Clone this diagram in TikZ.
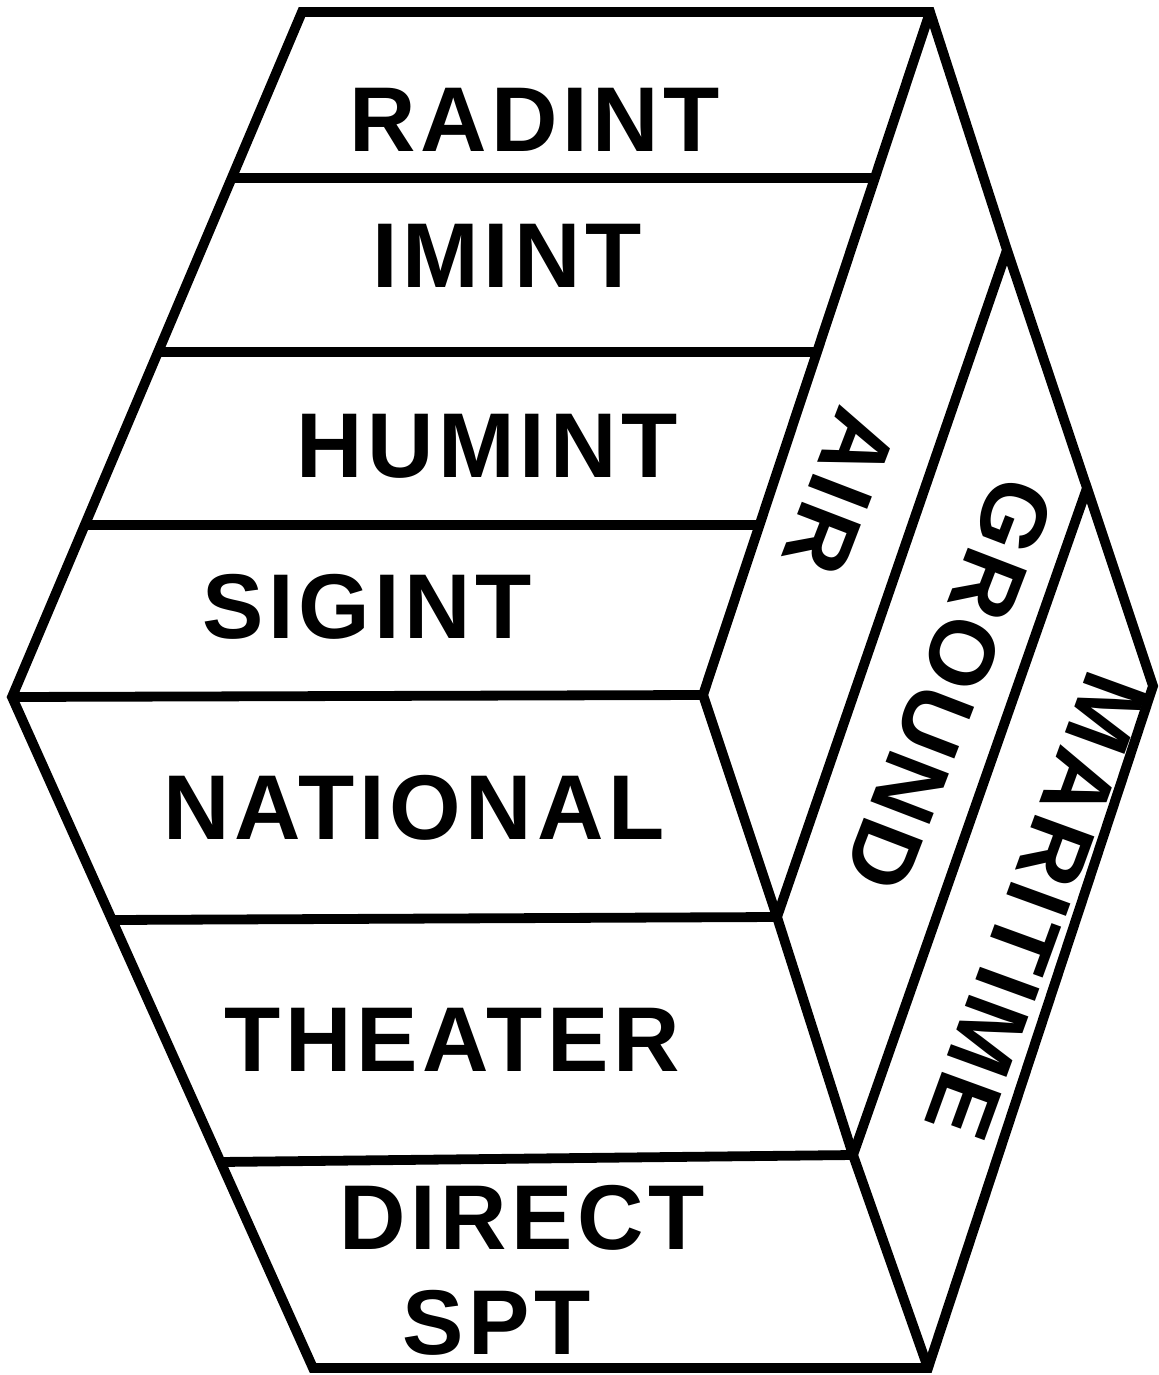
\documentclass[tikz,border=0pt]{standalone}
\usepackage{fontspec}
\setmainfont{Liberation Sans}
\begin{document}
\begin{tikzpicture}[x=0.5pt,y=-0.5pt,
  edge/.style={line width=4.9pt,line join=miter,line cap=butt},
  lbl/.style={inner sep=0pt,anchor=center,font=\fontsize{46}{50}\selectfont\bfseries\addfontfeature{LetterSpace=5}},
  vlbl/.style={lbl,rotate=-111}]
\fill[white] (0,0) rectangle (1159,1375);
\useasboundingbox (0,0) rectangle (1159,1375);
% outer vertices
\coordinate (TL) at (302,12);
\coordinate (TR) at (930,12);
\coordinate (R1) at (1007,250);
\coordinate (R2) at (1087,488);
\coordinate (RV) at (1153,686);
\coordinate (BR) at (928,1368);
\coordinate (BL) at (313,1368);
\coordinate (LV) at (12,697);
% inner vertices
\coordinate (C) at (703,695);
\coordinate (P1) at (777,917);
\coordinate (P2) at (853,1155);
% upper face band ends
\coordinate (UL1) at (231.7,178);
\coordinate (UR1) at (874.8,178);
\coordinate (UL2) at (158.1,352);
\coordinate (UR2) at (817,352);
\coordinate (UL3) at (84.8,525);
\coordinate (UR3) at (759.5,525);
% lower face band ends
\coordinate (LL1) at (111.7,920);
\coordinate (LL2) at (220,1162);
% outline
\draw[edge] (TL) -- (TR) -- (R1) -- (R2) -- (RV) -- (BR) -- (BL) -- (LV) -- cycle;
% inner edges
\draw[edge] (TR) -- (C);
\draw[edge] (LV) -- (C);
\draw[edge] (C) -- (P1) -- (P2) -- (BR);
\draw[edge] (R1) -- (P1);
\draw[edge] (R2) -- (P2);
\draw[edge] (UL1) -- (UR1);
\draw[edge] (UL2) -- (UR2);
\draw[edge] (UL3) -- (UR3);
\draw[edge] (LL1) -- (P1);
\draw[edge] (LL2) -- (P2);
% labels
\node[lbl] (radint) at (535,120) {RADINT};
\node[lbl] (imint) at (507,256) {IMINT};
\node[lbl] (humint) at (487,446) {HUMINT};
\node[lbl] (sigint) at (367,607) {SIGINT};
\node[lbl] (national) at (414,808) {NATIONAL};
\node[lbl] (theater) at (452,1040) {THEATER};
\node[lbl] (direct) at (522,1218) {DIRECT};
\node[lbl] (spt) at (497,1323) {SPT};
\node[vlbl] (air) at (840,492) {AIR};
\node[vlbl] (ground) at (950,684) {GROUND};
\node[vlbl,rotate=1] (maritime) at (1036,906) {MARITIME};
\end{tikzpicture}
\end{document}
